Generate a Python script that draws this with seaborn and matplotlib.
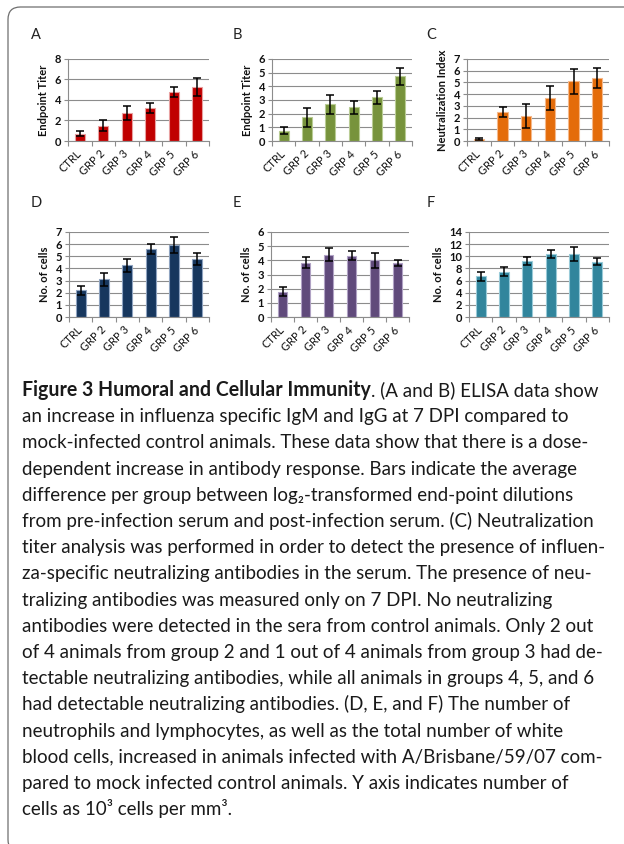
import matplotlib
matplotlib.use('Agg')
import matplotlib.pyplot as plt
import seaborn as sns
import numpy as np
import pandas as pd
from matplotlib.patches import FancyBboxPatch

# ---------------- data ----------------
groups = ["CTRL", "GRP 2", "GRP 3", "GRP 4", "GRP 5", "GRP 6"]

a_vals = [0.73, 1.50, 2.73, 3.25, 4.75, 5.25]
a_err = [0.26, 0.52, 0.65, 0.50, 0.50, 0.87]

b_vals = [0.74, 1.72, 2.70, 2.46, 3.20, 4.72]
b_err = [0.25, 0.70, 0.69, 0.48, 0.47, 0.65]

c_vals = [0.18, 2.50, 2.12, 3.67, 5.10, 5.36]
c_err = [0.08, 0.43, 1.05, 1.03, 1.07, 0.83]

d_vals = [2.20, 3.10, 4.25, 5.57, 5.96, 4.80]
d_err = [0.38, 0.55, 0.55, 0.41, 0.66, 0.48]

e_vals = [1.80, 3.84, 4.40, 4.33, 4.00, 3.79]
e_err = [0.33, 0.38, 0.44, 0.34, 0.52, 0.21]

f_vals = [6.70, 7.47, 9.17, 10.38, 10.40, 9.10]
f_err = [0.71, 0.77, 0.66, 0.58, 1.18, 0.55]

caption_bold = "Figure 3 Humoral and Cellular Immunity"
caption_lines = [
    ". (A and B) ELISA data show",
    "an increase in influenza specific IgM and IgG at 7 DPI compared to",
    "mock-infected control animals. These data show that there is a dose-",
    "dependent increase in antibody response. Bars indicate the average",
    "difference per group between log\u2082-transformed end-point dilutions",
    "from pre-infection serum and post-infection serum. (C) Neutralization",
    "titer analysis was performed in order to detect the presence of influen-",
    "za-specific neutralizing antibodies in the serum. The presence of neu-",
    "tralizing antibodies was measured only on 7 DPI. No neutralizing",
    "antibodies were detected in the sera from control animals. Only 2 out",
    "of 4 animals from group 2 and 1 out of 4 animals from group 3 had de-",
    "tectable neutralizing antibodies, while all animals in groups 4, 5, and 6",
    "had detectable neutralizing antibodies. (D, E, and F) The number of",
    "neutrophils and lymphocytes, as well as the total number of white",
    "blood cells, increased in animals infected with A/Brisbane/59/07 com-",
    "pared to mock infected control animals. Y axis indicates number of",
    "cells as 10\u00b3 cells per mm\u00b3.",
]

# ---------------- figure ----------------
sns.set_theme(style='white')
plt.rcParams['font.family'] = ['Lato', 'DejaVu Sans']

W, H = 624, 844
fig = plt.figure(figsize=(W / 100, H / 100), dpi=100)
fig.patch.set_facecolor('white')

frame = FancyBboxPatch((8 / W, 1 - 852 / H), 650 / W, 845 / H,
                       boxstyle="round,pad=0,rounding_size=0.02",
                       transform=fig.transFigure, facecolor='none',
                       edgecolor='#6e6e6e', linewidth=0.9, mutation_aspect=W / H)
fig.patches.append(frame)

GRID = '#8c8c8c'
TICK_FS = 8.0


def px_axes(x0, y0, x1, y1):
    return fig.add_axes([x0 / W, 1 - y1 / H, (x1 - x0) / W, (y1 - y0) / H])


def panel(box, vals, errs, ymax, ystep, color, edge, ylabel, letter, lxy):
    ax = px_axes(*box)
    df = pd.DataFrame({'group': groups, 'value': vals})
    sns.barplot(data=df, x='group', y='value', color=color, saturation=1,
                width=0.43, edgecolor=edge, linewidth=0.8, ax=ax, errorbar=None)
    ax.errorbar(np.arange(len(groups)), vals, yerr=errs, fmt='none',
                ecolor='black', elinewidth=1.1, capsize=2.6, capthick=1.1, zorder=5)
    ax.set_xlim(-0.5, len(groups) - 0.5)
    ax.set_ylim(0, ymax)
    yt = np.arange(0, ymax + 0.001, ystep)
    ax.set_yticks(yt)
    ax.set_yticklabels([f"{int(v)}" for v in yt], fontweight='bold',
                       fontsize=TICK_FS, color='#111111')
    ax.yaxis.grid(True, color=GRID, linewidth=0.8)
    ax.xaxis.grid(False)
    ax.set_axisbelow(True)
    for s in ['top', 'right']:
        ax.spines[s].set_visible(False)
    for s in ['left', 'bottom']:
        ax.spines[s].set_color(GRID)
        ax.spines[s].set_linewidth(0.8)
    ax.set_xlabel('')
    ax.set_ylabel(ylabel, fontsize=8.0, fontweight='bold', labelpad=4, color='#111111')
    ax.tick_params(axis='y', length=3, width=0.8, color=GRID, pad=2, left=True)
    ax.set_xticks(np.arange(len(groups)))
    ax.set_xticklabels(groups, rotation=45, ha='right', va='center',
                       rotation_mode='anchor', fontsize=TICK_FS, color='#111111')
    ax.set_xticks(np.arange(-0.5, len(groups), 1), minor=True)
    ax.tick_params(axis='x', which='major', length=0, pad=8)
    ax.tick_params(axis='x', which='minor', length=3.5, width=0.8, color=GRID,
                   bottom=True)
    fig.text(lxy[0] / W, 1 - lxy[1] / H, letter, fontsize=10.5,
             ha='center', va='center', color='#222222')
    return ax


panel((68, 59, 209, 141), a_vals, a_err, 8, 2, '#C00000', '#E8A0A0',
      'Endpoint Titer', 'A', (36, 35))
panel((272, 59, 412, 141), b_vals, b_err, 6, 1, '#77933C', '#B9CC94',
      'Endpoint Titer', 'B', (237, 35))
panel((467, 59, 609, 141), c_vals, c_err, 7, 1, '#E46C0A', '#F5B88A',
      'Neutralization Index', 'C', (431, 35))
panel((69, 232, 209, 317), d_vals, d_err, 7, 1, '#17375E', '#8EA3C0',
      'No. of cells', 'D', (36, 203))
panel((271, 232, 409, 317), e_vals, e_err, 6, 1, '#604A7B', '#B0A2C4',
      'No. of cells', 'E', (237, 203))
panel((469, 232, 609, 317), f_vals, f_err, 14, 2, '#31859C', '#98CAD8',
      'No. of cells', 'F', (431, 203))

# ---------------- caption ----------------
renderer = fig.canvas.get_renderer()
probe = fig.text(0, 0, caption_lines[1], fontsize=12)
w_probe = probe.get_window_extent(renderer).width
probe.remove()
fs = 12 * 544 / w_probe

probe = fig.text(0, 0, caption_bold, fontsize=12, fontweight='bold')
w_bold = probe.get_window_extent(renderer).width
probe.remove()
fs_bold = min(12 * 346 / w_bold, fs * 1.06)

x0 = 22
base0 = 396
step = 26.2
TXT = '#1a1a1a'
for i, line in enumerate(caption_lines):
    y = 1 - (base0 + i * step) / H
    if i == 0:
        tb = fig.text(x0 / W, y, caption_bold, fontsize=fs_bold, fontweight='bold',
                      va='baseline', ha='left', color=TXT)
        bb = tb.get_window_extent(renderer)
        fig.text(bb.x1 / W, y, line, fontsize=fs, va='baseline', ha='left', color=TXT)
    else:
        fig.text(x0 / W, y, line, fontsize=fs, va='baseline', ha='left', color=TXT)

fig.savefig('out.png', dpi=100, facecolor='white')
